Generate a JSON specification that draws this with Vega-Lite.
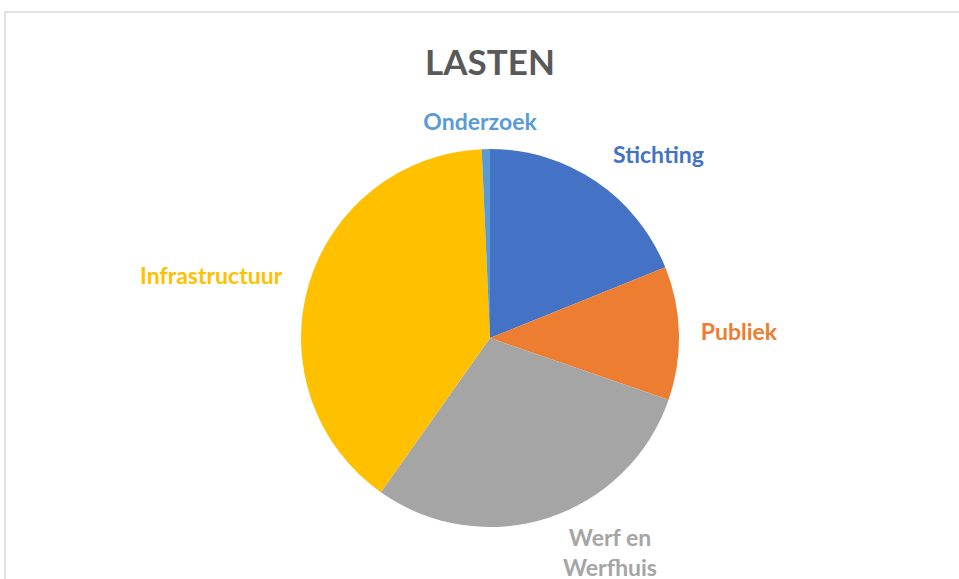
{
  "$schema": "https://vega.github.io/schema/vega-lite/v6.json",
  "width": 970,
  "height": 652,
  "autosize": {"type": "none"},
  "padding": {"left": 5, "top": 12, "right": -16, "bottom": -85},
  "background": "white",
  "view": {"stroke": "#D9D9D9", "strokeWidth": 1.5, "fill": "white"},
  "config": {"font": "Lato"},
  "title": {"text": "LASTEN", "fontSize": 35, "font": "Lato", "fontWeight": "bold", "color": "#595959", "anchor": "middle", "offset": -61, "dy": 37, "baseline": "alphabetic"},
  "data": {"values": [
    {"post": "Stichting", "waarde": 18.9, "volgorde": 1},
    {"post": "Publiek", "waarde": 11.4, "volgorde": 2},
    {"post": "Werf en\nWerfhuis", "waarde": 29.5, "volgorde": 3},
    {"post": "Infrastructuur", "waarde": 39.5, "volgorde": 4},
    {"post": "Onderzoek", "waarde": 0.7, "volgorde": 5}
  ]},
  "encoding": {
    "theta": {"field": "waarde", "type": "quantitative", "stack": true},
    "order": {"field": "volgorde", "type": "quantitative"},
    "color": {"field": "post", "type": "nominal", "legend": null,
      "scale": {"domain": ["Stichting", "Publiek", "Werf en\nWerfhuis", "Infrastructuur", "Onderzoek"],
                "range": ["#4472C4", "#ED7D31", "#A5A5A5", "#FFC000", "#5B9BD5"]}}
  },
  "layer": [
    {"mark": {"type": "arc", "radius": 189}},
    {"mark": {"type": "text", "radius": 250, "dx": 28.6, "dy": 25, "fontSize": 23, "fontWeight": "bold", "font": "Lato", "align": "center", "baseline": "middle"},
     "encoding": {"text": {"condition": {"test": "datum.volgorde === 1", "field": "post"}, "value": ""}}},
    {"mark": {"type": "text", "radius": 250, "dx": -1, "dy": 1, "fontSize": 23, "fontWeight": "bold", "font": "Lato", "align": "center", "baseline": "middle"},
     "encoding": {"text": {"condition": {"test": "datum.volgorde === 2", "field": "post"}, "value": ""}}},
    {"mark": {"type": "text", "radius": 250, "dx": 43.5, "dy": -37, "fontSize": 23, "fontWeight": "bold", "font": "Lato", "align": "center", "baseline": "middle", "lineBreak": "\n", "lineHeight": 30},
     "encoding": {"text": {"condition": {"test": "datum.volgorde === 3", "field": "post"}, "value": ""}}},
    {"mark": {"type": "text", "radius": 250, "dx": -39, "dy": 9.5, "fontSize": 23, "fontWeight": "bold", "font": "Lato", "align": "center", "baseline": "middle"},
     "encoding": {"text": {"condition": {"test": "datum.volgorde === 4", "field": "post"}, "value": ""}}},
    {"mark": {"type": "text", "radius": 250, "dx": -4.5, "dy": 35, "fontSize": 23, "fontWeight": "bold", "font": "Lato", "align": "center", "baseline": "middle"},
     "encoding": {"text": {"condition": {"test": "datum.volgorde === 5", "field": "post"}, "value": ""}}}
  ]
}
